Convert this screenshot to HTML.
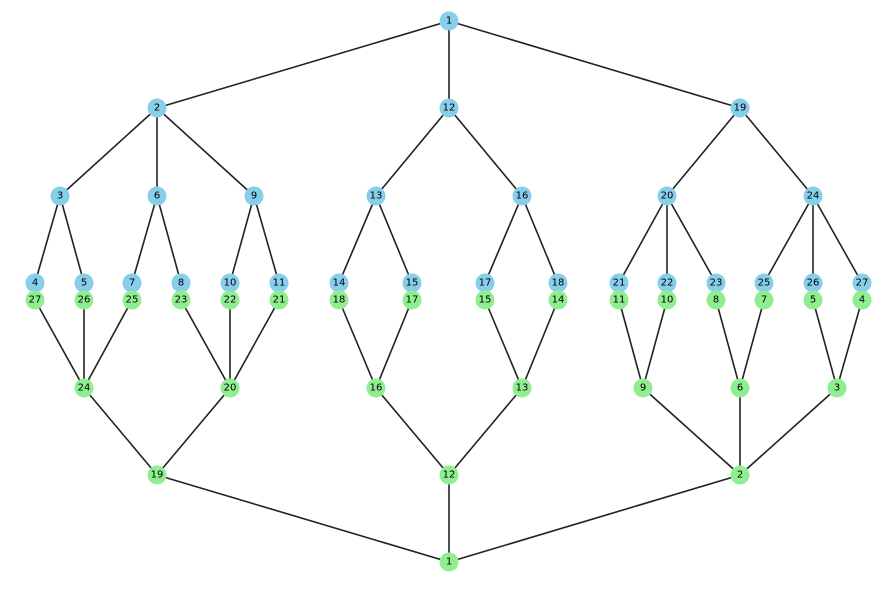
<!DOCTYPE html><html><head><meta charset="utf-8"><style>body{margin:0;background:#fff}svg{display:block}text{font-family:"DejaVu Sans","Liberation Sans",sans-serif;font-size:10px;text-anchor:middle;dominant-baseline:central;fill:#000}</style></head><body>
<svg width="881" height="590" viewBox="0 0 881 590" xmlns="http://www.w3.org/2000/svg">
<g stroke="#222" stroke-width="1.6">
<line x1="449" y1="21" x2="157" y2="108"/><line x1="449" y1="21" x2="449" y2="108"/><line x1="449" y1="21" x2="740" y2="108"/>
<line x1="157" y1="108" x2="60" y2="196"/><line x1="157" y1="108" x2="157" y2="196"/><line x1="157" y1="108" x2="254" y2="196"/>
<line x1="449" y1="108" x2="376" y2="196"/><line x1="449" y1="108" x2="522" y2="196"/>
<line x1="740" y1="108" x2="667" y2="196"/><line x1="740" y1="108" x2="813" y2="196"/>
<line x1="60" y1="196" x2="35" y2="283"/><line x1="60" y1="196" x2="84" y2="283"/>
<line x1="157" y1="196" x2="132" y2="283"/><line x1="157" y1="196" x2="181" y2="283"/>
<line x1="254" y1="196" x2="230" y2="283"/><line x1="254" y1="196" x2="279" y2="283"/>
<line x1="376" y1="196" x2="339" y2="283"/><line x1="376" y1="196" x2="412" y2="283"/>
<line x1="522" y1="196" x2="485" y2="283"/><line x1="522" y1="196" x2="558" y2="283"/>
<line x1="667" y1="196" x2="619" y2="283"/><line x1="667" y1="196" x2="667" y2="283"/><line x1="667" y1="196" x2="716" y2="283"/>
<line x1="813" y1="196" x2="764" y2="283"/><line x1="813" y1="196" x2="813" y2="283"/><line x1="813" y1="196" x2="862" y2="283"/>
<line x1="35" y1="300" x2="84" y2="388"/><line x1="84" y1="300" x2="84" y2="388"/><line x1="132" y1="300" x2="84" y2="388"/>
<line x1="181" y1="300" x2="230" y2="388"/><line x1="230" y1="300" x2="230" y2="388"/><line x1="279" y1="300" x2="230" y2="388"/>
<line x1="339" y1="300" x2="376" y2="388"/><line x1="412" y1="300" x2="376" y2="388"/>
<line x1="485" y1="300" x2="522" y2="388"/><line x1="558" y1="300" x2="522" y2="388"/>
<line x1="619" y1="300" x2="643" y2="388"/><line x1="667" y1="300" x2="643" y2="388"/>
<line x1="716" y1="300" x2="740" y2="388"/><line x1="764" y1="300" x2="740" y2="388"/>
<line x1="813" y1="300" x2="837" y2="388"/><line x1="862" y1="300" x2="837" y2="388"/>
<line x1="84" y1="388" x2="157" y2="475"/><line x1="230" y1="388" x2="157" y2="475"/>
<line x1="376" y1="388" x2="449" y2="475"/><line x1="522" y1="388" x2="449" y2="475"/>
<line x1="643" y1="388" x2="740" y2="475"/><line x1="740" y1="388" x2="740" y2="475"/><line x1="837" y1="388" x2="740" y2="475"/>
<line x1="157" y1="475" x2="449" y2="562"/><line x1="449" y1="475" x2="449" y2="562"/><line x1="740" y1="475" x2="449" y2="562"/>
</g>
<g fill="#87CEEB">
<circle cx="449" cy="21" r="9.5"/><circle cx="157" cy="108" r="9.5"/><circle cx="449" cy="108" r="9.5"/><circle cx="740" cy="108" r="9.5"/>
<circle cx="60" cy="196" r="9.5"/><circle cx="157" cy="196" r="9.5"/><circle cx="254" cy="196" r="9.5"/><circle cx="376" cy="196" r="9.5"/><circle cx="522" cy="196" r="9.5"/><circle cx="667" cy="196" r="9.5"/><circle cx="813" cy="196" r="9.5"/>
<circle cx="35" cy="283" r="9.5"/><circle cx="84" cy="283" r="9.5"/><circle cx="132" cy="283" r="9.5"/><circle cx="181" cy="283" r="9.5"/><circle cx="230" cy="283" r="9.5"/><circle cx="279" cy="283" r="9.5"/><circle cx="339" cy="283" r="9.5"/><circle cx="412" cy="283" r="9.5"/><circle cx="485" cy="283" r="9.5"/><circle cx="558" cy="283" r="9.5"/><circle cx="619" cy="283" r="9.5"/><circle cx="667" cy="283" r="9.5"/><circle cx="716" cy="283" r="9.5"/><circle cx="764" cy="283" r="9.5"/><circle cx="813" cy="283" r="9.5"/><circle cx="862" cy="283" r="9.5"/>
</g>
<g fill="#90EE90">
<circle cx="35" cy="300" r="9.5"/><circle cx="84" cy="300" r="9.5"/><circle cx="132" cy="300" r="9.5"/><circle cx="181" cy="300" r="9.5"/><circle cx="230" cy="300" r="9.5"/><circle cx="279" cy="300" r="9.5"/><circle cx="339" cy="300" r="9.5"/><circle cx="412" cy="300" r="9.5"/><circle cx="485" cy="300" r="9.5"/><circle cx="558" cy="300" r="9.5"/><circle cx="619" cy="300" r="9.5"/><circle cx="667" cy="300" r="9.5"/><circle cx="716" cy="300" r="9.5"/><circle cx="764" cy="300" r="9.5"/><circle cx="813" cy="300" r="9.5"/><circle cx="862" cy="300" r="9.5"/>
<circle cx="84" cy="388" r="9.5"/><circle cx="230" cy="388" r="9.5"/><circle cx="376" cy="388" r="9.5"/><circle cx="522" cy="388" r="9.5"/><circle cx="643" cy="388" r="9.5"/><circle cx="740" cy="388" r="9.5"/><circle cx="837" cy="388" r="9.5"/>
<circle cx="157" cy="475" r="9.5"/><circle cx="449" cy="475" r="9.5"/><circle cx="740" cy="475" r="9.5"/><circle cx="449" cy="562" r="9.5"/>
</g>
<g>
<text x="449" y="21">1</text><text x="157" y="108">2</text><text x="449" y="108">12</text><text x="740" y="108">19</text>
<text x="60" y="196">3</text><text x="157" y="196">6</text><text x="254" y="196">9</text><text x="376" y="196">13</text><text x="522" y="196">16</text><text x="667" y="196">20</text><text x="813" y="196">24</text>
<text x="35" y="283">4</text><text x="84" y="283">5</text><text x="132" y="283">7</text><text x="181" y="283">8</text><text x="230" y="283">10</text><text x="279" y="283">11</text><text x="339" y="283">14</text><text x="412" y="283">15</text><text x="485" y="283">17</text><text x="558" y="283">18</text><text x="619" y="283">21</text><text x="667" y="283">22</text><text x="716" y="283">23</text><text x="764" y="283">25</text><text x="813" y="283">26</text><text x="862" y="283">27</text>
<text x="35" y="300">27</text><text x="84" y="300">26</text><text x="132" y="300">25</text><text x="181" y="300">23</text><text x="230" y="300">22</text><text x="279" y="300">21</text><text x="339" y="300">18</text><text x="412" y="300">17</text><text x="485" y="300">15</text><text x="558" y="300">14</text><text x="619" y="300">11</text><text x="667" y="300">10</text><text x="716" y="300">8</text><text x="764" y="300">7</text><text x="813" y="300">5</text><text x="862" y="300">4</text>
<text x="84" y="388">24</text><text x="230" y="388">20</text><text x="376" y="388">16</text><text x="522" y="388">13</text><text x="643" y="388">9</text><text x="740" y="388">6</text><text x="837" y="388">3</text>
<text x="157" y="475">19</text><text x="449" y="475">12</text><text x="740" y="475">2</text><text x="449" y="562">1</text>
</g>
</svg></body></html>
